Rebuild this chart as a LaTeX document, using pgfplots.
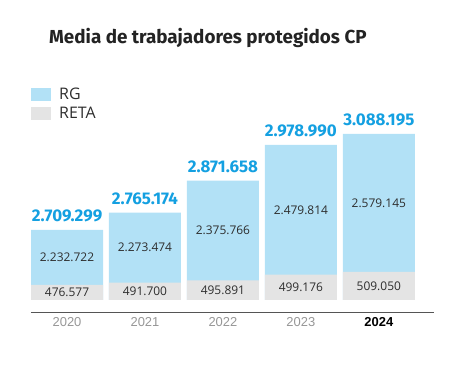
\documentclass[border=0pt]{standalone}
\usepackage{fontspec}
\setmainfont{Fira Sans}
\newfontfamily\arialf{Liberation Sans}
\newfontfamily\opensans{Open Sans}
\usepackage{pgfplots}
\usepackage{pgfplotstable}
\pgfplotsset{compat=1.18}
\definecolor{rgblue}{RGB}{178,225,246}
\definecolor{retagray}{RGB}{228,228,228}
\definecolor{totblue}{RGB}{20,160,225}
\definecolor{valdark}{RGB}{45,45,45}
\definecolor{titledark}{RGB}{35,35,35}
\definecolor{tickgray}{RGB}{150,150,150}
\definecolor{axisgray}{RGB}{85,85,85}

% real values and drawn heights (the reference does not draw bars to scale)
\pgfplotstableread{
x reta rg total retah toth retalab rglab totlab
0 476577 2232722 2709299 15.0 70.0 476.577 2.232.722 2.709.299
1 491700 2273474 2765174 17.3 87.3 491.700 2.273.474 2.765.174
2 495891 2375766 2871658 19.7 119.3 495.891 2.375.766 2.871.658
3 499176 2479814 2978990 25.3 155.0 499.176 2.479.814 2.978.990
4 509050 2579145 3088195 28.0 166.0 509.050 2.579.145 3.088.195
}\data

\begin{document}
\begin{tikzpicture}
\useasboundingbox (0,0) rectangle (464bp,367bp);
\node[anchor=base west, font=\bfseries\fontsize{18.9}{20}\selectfont, color=titledark, inner sep=0pt]
  at (49bp,323.7bp) {Media de trabajadores protegidos CP};
\begin{axis}[
  at={(31bp,54.3bp)}, anchor=south west,
  scale only axis, width=403bp, height=242.7bp,
  xmin=-0.462, xmax=4.708, ymin=-12.7, ymax=230,
  axis x line*=bottom, axis y line=none,
  x axis line style={-, color=axisgray, line width=1.2bp},
  xtick=data, xticklabels={2020,2021,2022,2023,{\color{black}\bfseries 2024}},
  major tick length=0pt,
  xticklabel style={font=\arialf\fontsize{13}{13}\selectfont, color=tickgray, anchor=base, yshift=-14bp},
  legend style={draw=none, fill=none, at={(axis description cs:0,1)}, anchor=north west,
    yshift=-18bp, font=\opensans\fontsize{16}{16}\selectfont, text=valdark, row sep=6bp,
    inner sep=0pt, nodes={inner sep=0pt},
    /tikz/every odd column/.append style={column sep=8bp}},
  legend cell align=left,
  clip=false,
]
\addplot[ybar, bar width=72bp, bar shift=0pt, fill=rgblue, draw=none,
  legend image code/.code={\fill[rgblue] (0bp,-6.5bp) rectangle (20bp,6.5bp);}]
  table[x=x, y=toth] {\data};
\addlegendentry{RG}
\addplot[ybar, bar width=72bp, bar shift=0pt, fill=retagray, draw=none,
  legend image code/.code={\fill[retagray] (0bp,-6.5bp) rectangle (20bp,6.5bp);}]
  table[x=x, y=retah] {\data};
\addlegendentry{RETA}
% labels
\addplot[draw=none, mark=none, forget plot, nodes near coords, point meta=explicit symbolic,
  nodes near coords align={anchor=center},
  every node near coord/.append style={font=\opensans\fontsize{12}{12}\selectfont, color=valdark, anchor=center}]
  table[x=x, y expr=\thisrow{retah}/2, meta=retalab] {\data};
\addplot[draw=none, mark=none, forget plot, nodes near coords, point meta=explicit symbolic,
  nodes near coords align={anchor=center},
  every node near coord/.append style={font=\opensans\fontsize{12}{12}\selectfont, color=valdark, anchor=center}]
  table[x=x, y expr=(\thisrow{retah}+\thisrow{toth})/2, meta=rglab] {\data};
\addplot[draw=none, mark=none, forget plot, nodes near coords, point meta=explicit symbolic,
  nodes near coords align={anchor=center},
  every node near coord/.append style={font=\bfseries\fontsize{17}{17}\selectfont, color=totblue, anchor=center, yshift=14bp}]
  table[x=x, y=toth, meta=totlab] {\data};
\end{axis}
\end{tikzpicture}
\end{document}
